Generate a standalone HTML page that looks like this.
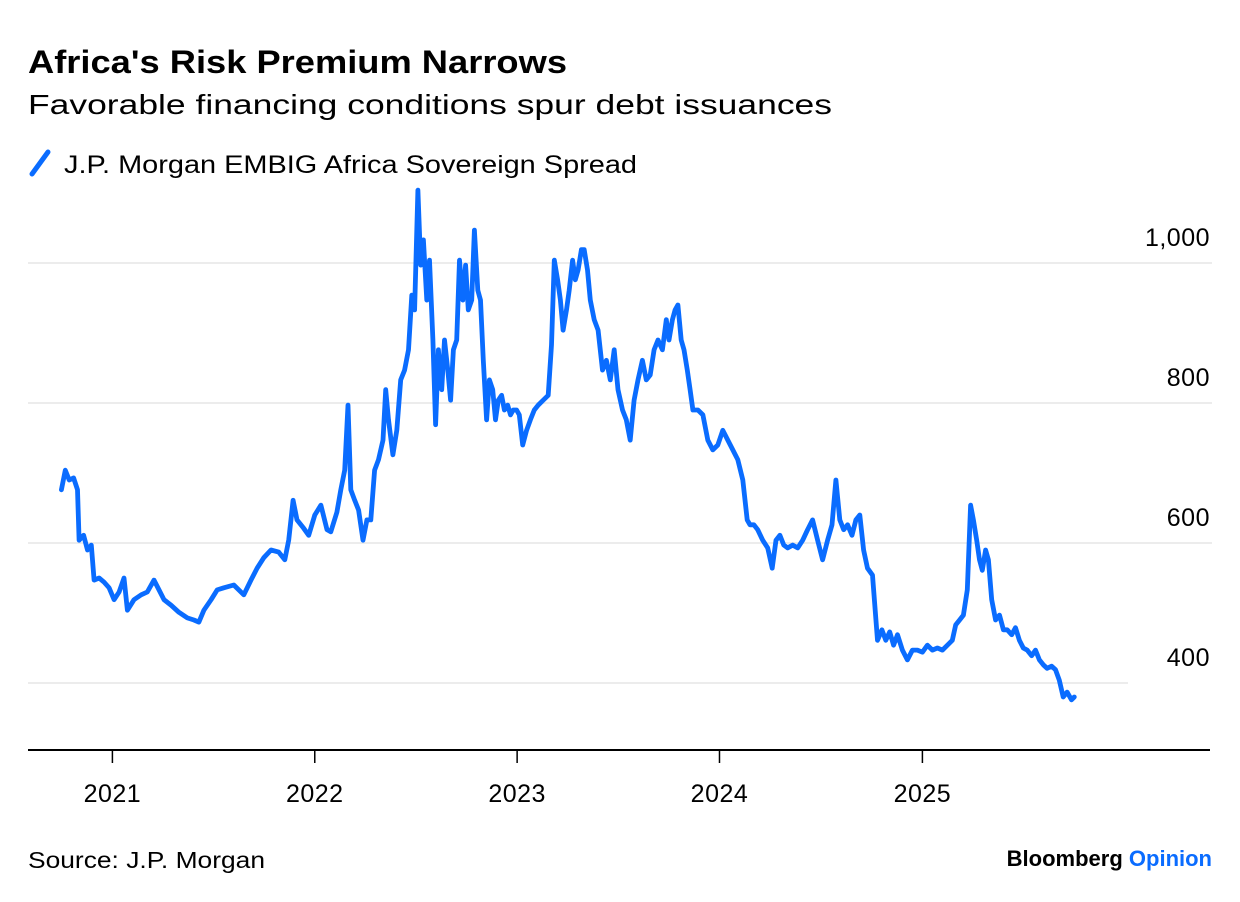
<!DOCTYPE html>
<html><head><meta charset="utf-8"><style>
body{margin:0;background:#fff;font-family:"Liberation Sans",sans-serif;}
#wrap{position:relative;width:1240px;height:902px;overflow:hidden;}
</style></head><body>
<div id="wrap">
<svg id="svg" width="1240" height="902" xmlns="http://www.w3.org/2000/svg">
<text x="28" y="73" font-size="32" font-weight="bold" fill="#000" textLength="539" lengthAdjust="spacingAndGlyphs">Africa's Risk Premium Narrows</text>
<text x="28" y="114" font-size="28" fill="#000" textLength="804" lengthAdjust="spacingAndGlyphs">Favorable financing conditions spur debt issuances</text>
<line x1="32" y1="174" x2="48" y2="152" stroke="#0a6cff" stroke-width="5" stroke-linecap="round"/>
<text x="64" y="173" font-size="25" fill="#000" textLength="573" lengthAdjust="spacingAndGlyphs">J.P. Morgan EMBIG Africa Sovereign Spread</text>
<g id="grid"></g>
<g id="xaxis"></g>
<path id="line" fill="none" stroke="#0a6cff" stroke-width="4.8" stroke-linejoin="round" stroke-linecap="round"/>
<text x="28" y="868" font-size="23" fill="#000" textLength="237" lengthAdjust="spacingAndGlyphs">Source: J.P. Morgan</text>
<text x="1212" y="866" font-size="22" font-weight="bold" text-anchor="end"><tspan fill="#000">Bloomberg </tspan><tspan fill="#0a6cff">Opinion</tspan></text>
</svg>
</div>
<script>
// days since 2020-10-01
const days=[0,7,14,22,29,32,40,47,54,59,68,77,86,95,104,113,119,131,144,155,167,176,185,198,212,227,239,248,257,270,281,293,311,329,342,353,365,378,392,403,410,418,425,437,446,457,468,479,486,497,504,511,517,522,529,536,544,551,558,565,572,580,585,590,598,605,612,619,626,632,637,643,648,653,659,664,670,675,680,686,691,697,702,707,713,718,724,729,734,740,745,751,756,761,767,772,778,783,788,794,799,805,810,815,821,826,832,839,846,853,860,869,878,884,889,895,900,905,911,916,922,927,932,938,943,949,954,961,968,976,983,990,997,1004,1012,1019,1026,1033,1040,1048,1055,1062,1069,1076,1084,1091,1096,1102,1107,1112,1118,1123,1129,1134,1139,1148,1157,1166,1175,1184,1193,1202,1211,1220,1229,1237,1242,1249,1256,1265,1274,1282,1289,1296,1303,1310,1319,1328,1337,1346,1355,1364,1373,1382,1390,1397,1404,1411,1418,1426,1433,1440,1447,1454,1463,1472,1480,1487,1494,1501,1508,1517,1526,1535,1544,1553,1562,1571,1580,1589,1598,1607,1613,1620,1627,1634,1640,1645,1651,1656,1661,1667,1672,1678,1685,1692,1699,1706,1714,1721,1728,1735,1742,1750,1757,1764,1771,1778,1786,1793,1800,1807,1814,1822,1827];
const spread=[676,704,690,693,676,604,611,590,597,547,550,544,536,519,530,550,504,519,526,530,547,533,519,511,501,493,490,487,504,519,533,536,540,526,547,564,579,590,587,576,604,661,633,621,611,640,654,619,616,644,676,704,797,676,661,647,604,633,633,704,719,747,819,776,726,761,833,847,876,954,933,1104,997,1033,947,1004,890,769,876,819,890,847,804,876,890,1004,947,997,933,947,1047,961,947,861,776,833,819,776,804,811,790,797,783,790,790,783,740,761,776,790,797,804,811,883,1004,976,947,904,933,961,1004,976,990,1019,1019,990,947,919,904,847,861,833,876,819,790,776,747,804,833,861,833,840,876,890,876,919,890,919,933,940,890,876,847,819,790,790,783,747,733,740,761,747,733,719,690,633,626,626,619,604,593,564,604,611,597,593,597,593,604,619,633,604,576,604,626,690,633,619,626,611,633,640,590,564,554,461,476,461,473,454,469,447,433,447,447,444,454,447,450,447,454,461,483,490,497,533,654,633,604,576,561,590,576,519,490,497,476,476,469,479,461,450,447,439,447,433,426,421,424,419,404,380,387,376,380];
const yTicks=[400,600,800,1000];
const yTickLabels=["400","600","800","1,000"];
const xTickDays=[92,457,822,1187,1553];
const xTickLabels=["2021","2022","2023","2024","2025"];

const NS="http://www.w3.org/2000/svg";
function xScale(d){return 61.4+d*202.5/365.25;}
function yScale(v){return 263+(1000-v)*0.7;}
const grid=document.getElementById('grid');
yTicks.forEach((t,i)=>{
  const l=document.createElementNS(NS,'line');
  l.setAttribute('x1',28);l.setAttribute('x2',t===400?1128:1212);
  l.setAttribute('y1',yScale(t));l.setAttribute('y2',yScale(t));
  l.setAttribute('stroke','#ececec');l.setAttribute('stroke-width','2');
  
  
  grid.appendChild(l);
  const tx=document.createElementNS(NS,'text');
  tx.setAttribute('x',1210);tx.setAttribute('y',yScale(t)-17);
  tx.setAttribute('text-anchor','end');tx.setAttribute('font-size','25');
  tx.setAttribute('letter-spacing','0.5');
  tx.textContent=yTickLabels[i];
  
  
  grid.appendChild(tx);
});
const xa=document.getElementById('xaxis');
const ax=document.createElementNS(NS,'line');
ax.setAttribute('x1',28);ax.setAttribute('x2',1210);ax.setAttribute('y1',750);ax.setAttribute('y2',750);
ax.setAttribute('stroke','#000');ax.setAttribute('stroke-width','2');


xa.appendChild(ax);
xTickDays.forEach((d,i)=>{
  const x=xScale(d);
  const tk=document.createElementNS(NS,'line');
  tk.setAttribute('x1',x);tk.setAttribute('x2',x);tk.setAttribute('y1',750);tk.setAttribute('y2',763);
  tk.setAttribute('stroke','#000');tk.setAttribute('stroke-width','1.5');
  
  
  xa.appendChild(tk);
  const tx=document.createElementNS(NS,'text');
  tx.setAttribute('x',x);tx.setAttribute('y',802);tx.setAttribute('text-anchor','middle');tx.setAttribute('font-size','25');
  tx.setAttribute('letter-spacing','0.5');
  tx.textContent=xTickLabels[i];
  
  
  xa.appendChild(tx);
});
document.getElementById('line').setAttribute('d',days.map((d,i)=>(i?'L':'M')+xScale(d).toFixed(1)+','+yScale(spread[i]).toFixed(1)).join(''));
</script>
</body></html>
